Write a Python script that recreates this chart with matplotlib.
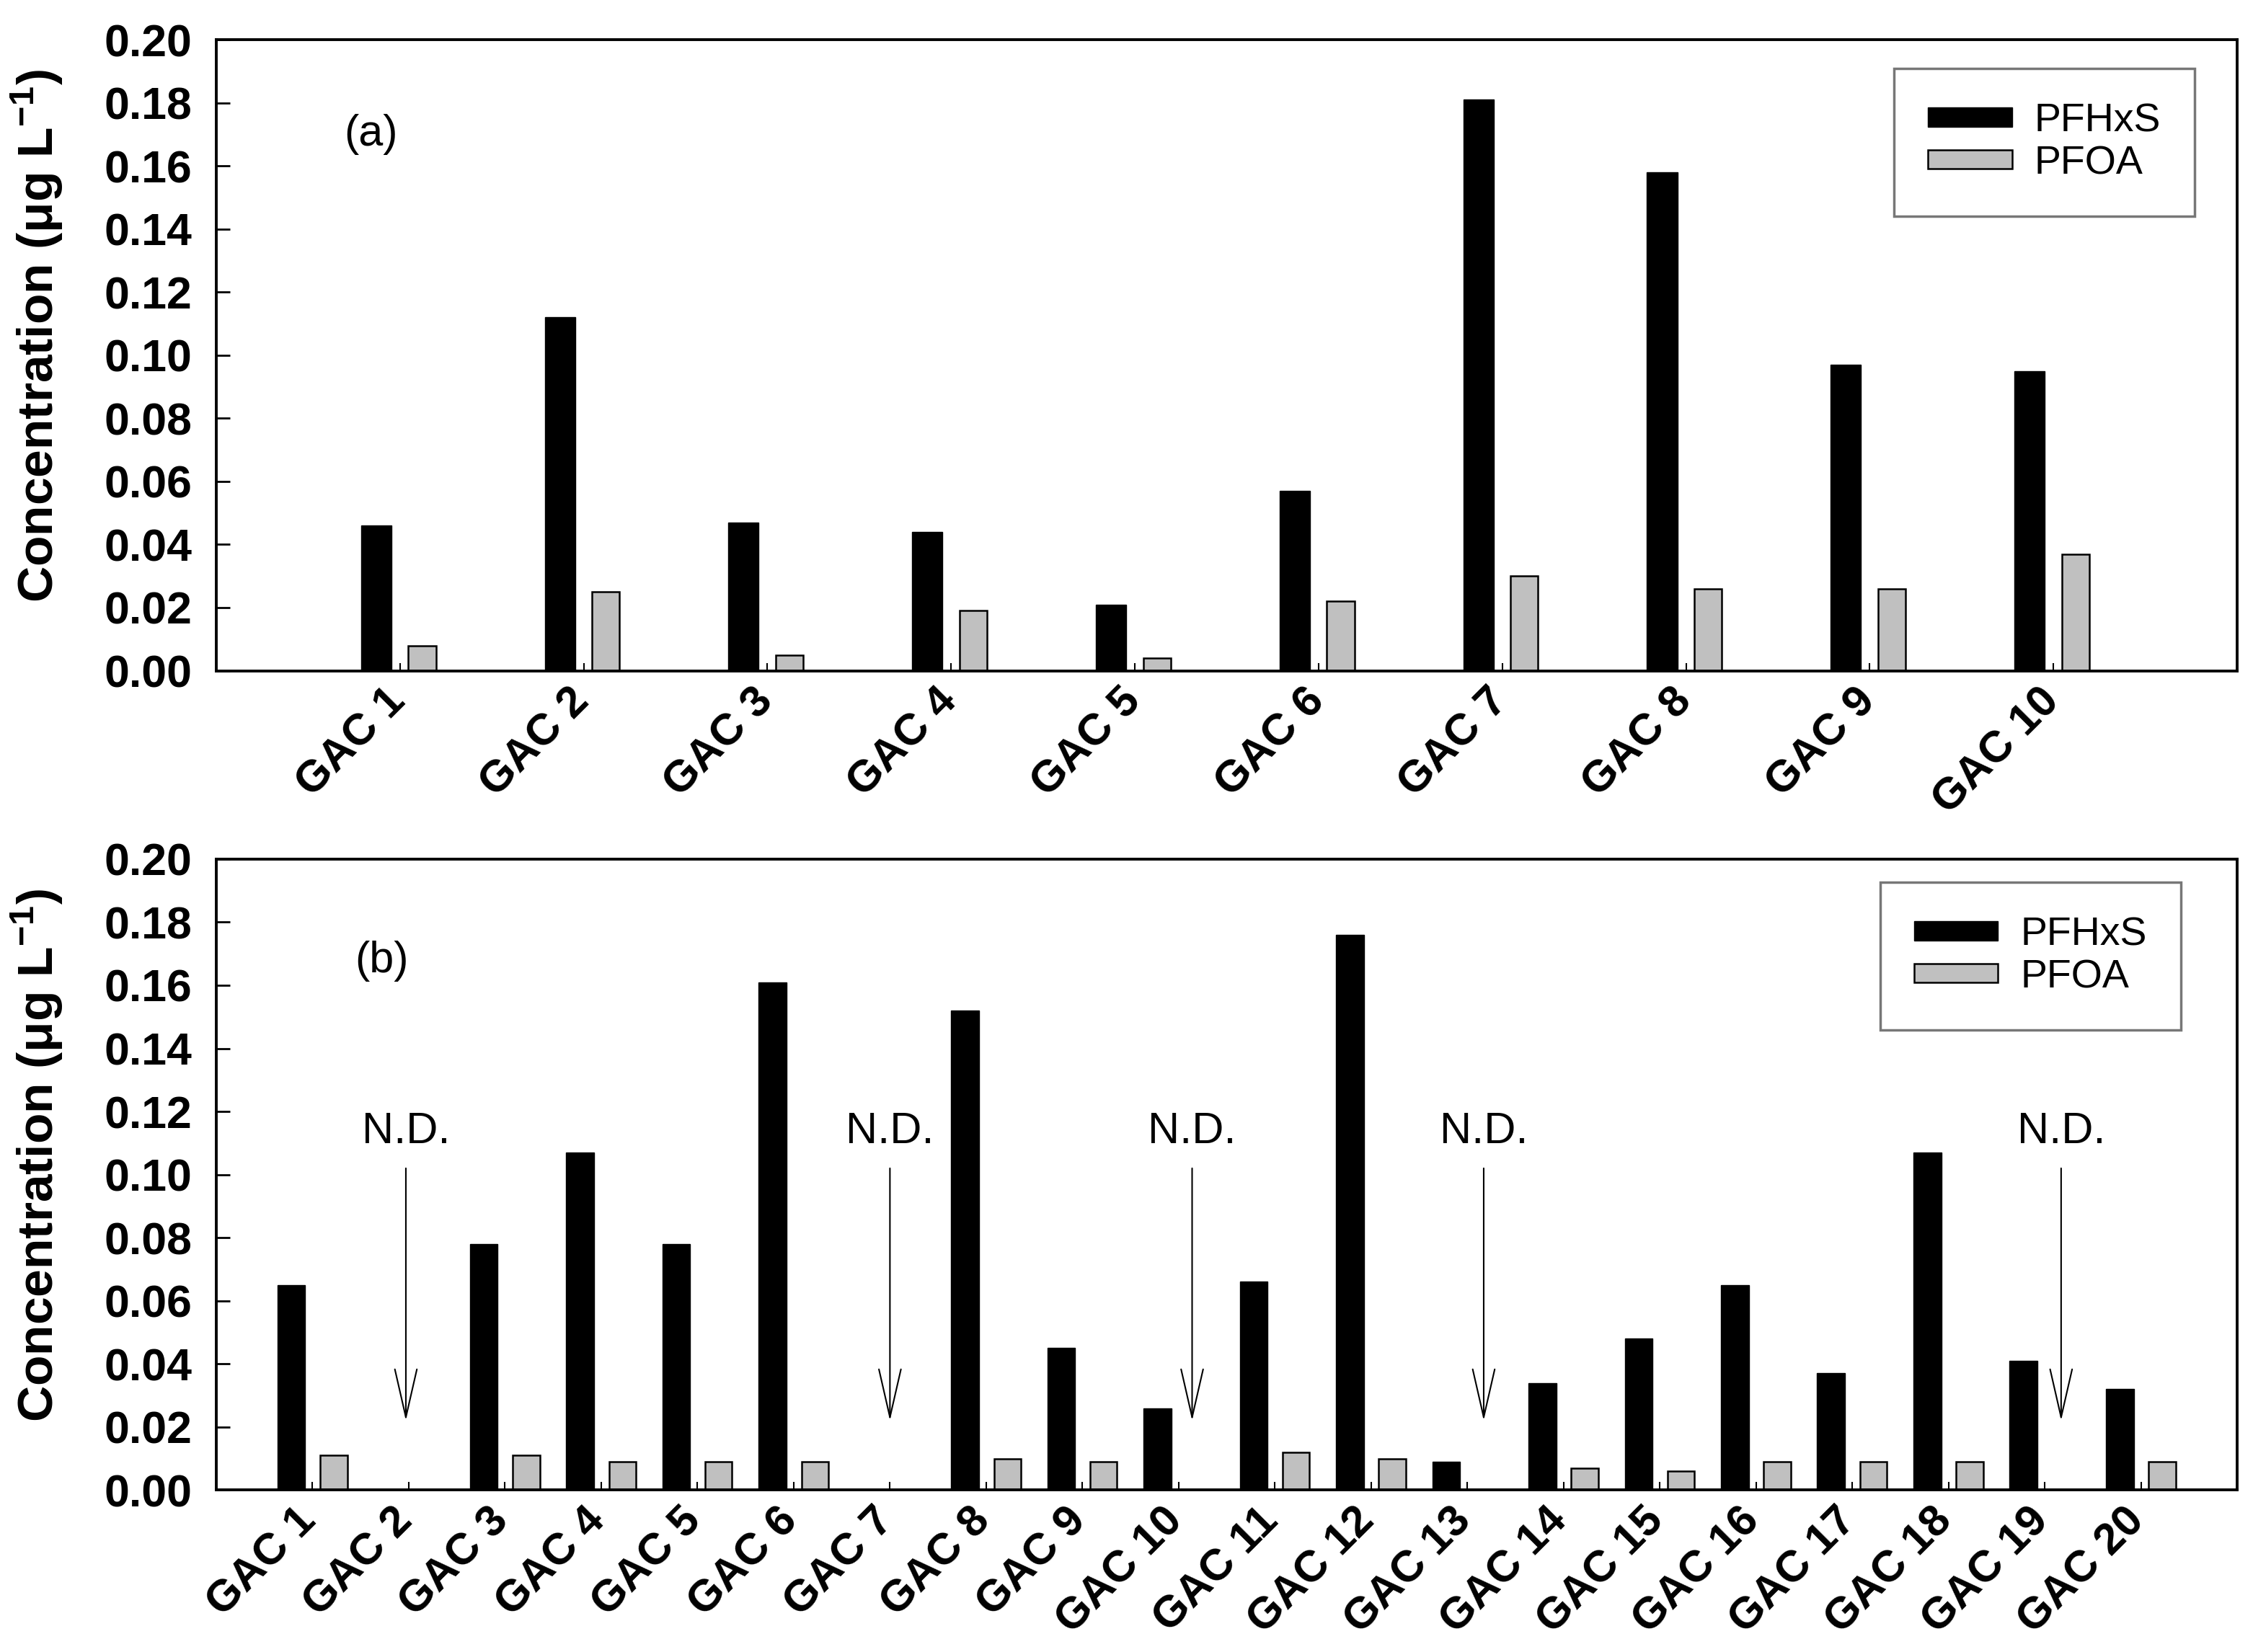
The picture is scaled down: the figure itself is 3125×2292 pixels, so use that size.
import numpy as np
import matplotlib
matplotlib.use("Agg")
import matplotlib.pyplot as plt
import matplotlib.transforms as mtransforms

plt.rcParams['font.family'] = ['Liberation Sans', 'DejaVu Sans']
plt.rcParams['mathtext.fontset'] = 'custom'
plt.rcParams['mathtext.rm'] = 'Liberation Sans'
plt.rcParams['mathtext.bf'] = 'Liberation Sans:bold'

# panel (a)
labels_a = ["GAC 1", "GAC 2", "GAC 3", "GAC 4", "GAC 5",
            "GAC 6", "GAC 7", "GAC 8", "GAC 9", "GAC 10"]
pfhxs_a = [0.046, 0.112, 0.047, 0.044, 0.021, 0.057, 0.181, 0.158, 0.097, 0.095]
pfoa_a = [0.008, 0.025, 0.005, 0.019, 0.004, 0.022, 0.030, 0.026, 0.026, 0.037]

# panel (b), None = not detected
labels_b = ["GAC %d" % i for i in range(1, 21)]
pfhxs_b = [0.065, None, 0.078, 0.107, 0.078, 0.161, None, 0.152, 0.045, 0.026,
           0.066, 0.176, 0.009, 0.034, 0.048, 0.065, 0.037, 0.107, 0.041, 0.032]
pfoa_b = [0.011, None, 0.011, 0.009, 0.009, 0.009, None, 0.010, 0.009, None,
          0.012, 0.010, None, 0.007, 0.006, 0.009, 0.009, 0.009, None, 0.009]
nd_b = ["GAC 2", "GAC 7", "GAC 10", "GAC 13", "GAC 19"]

yticks = np.arange(0, 0.201, 0.02)


def to_arr(vals):
    return np.array([np.nan if v is None else v for v in vals], dtype=float)


def style_axes(ax, labels, ncat, xshift):
    x = np.arange(1, ncat + 1)
    ax.set_xlim(0, ncat + 1)
    ax.set_ylim(0, 0.20)
    ax.set_yticks(yticks)
    ax.set_yticklabels(["%.2f" % t for t in yticks], fontweight='bold', fontsize=45)
    ax.set_xticks(x)
    ax.set_xticklabels(labels, rotation=45, ha='right', va='top',
                       fontweight='bold', fontsize=44)
    ax.tick_params(axis='y', direction='in', length=14, width=2, pad=24)
    ax.tick_params(axis='x', direction='in', length=8, width=1.5, pad=10)
    # shift after tick_params, which resets the label transforms
    shift = mtransforms.ScaledTranslation(xshift / 72, 0, ax.figure.dpi_scale_trans)
    for lab in ax.get_xticklabels():
        lab.set_transform(lab.get_transform() + shift)
    for s in ax.spines.values():
        s.set_linewidth(2.8)
    ax.set_ylabel("Concentration (\u03bcg L$^{\\mathbf{-1}}$)", fontsize=50, fontweight='bold')
    ax.yaxis.set_label_coords(-0.075, 0.53)


def draw_bars(ax, pfhxs, pfoa, off_k, off_g, wk, wg):
    x = np.arange(1, len(pfhxs) + 1)
    hk = to_arr(pfhxs)
    hg = to_arr(pfoa)
    mk = ~np.isnan(hk)
    mg = ~np.isnan(hg)
    bk = ax.bar(x[mk] + off_k, hk[mk], width=wk, color='black', edgecolor='black',
                linewidth=1, label='PFHxS')
    bg = ax.bar(x[mg] + off_g, hg[mg], width=wg, color='#c0c0c0', edgecolor='black',
                linewidth=1.8, label='PFOA')
    return bk, bg


def add_legend(ax, anchor):
    leg = ax.legend(loc='upper right', bbox_to_anchor=anchor, fontsize=40,
                    handlelength=2.1, handleheight=0.35, labelspacing=0.12,
                    borderpad=0.85, handletextpad=0.55, borderaxespad=0,
                    fancybox=False, frameon=True)
    leg.get_frame().set_edgecolor('#555555')
    leg.get_frame().set_linewidth(2.5)


fig = plt.figure(figsize=(31.25, 22.92), dpi=100)
ax1 = fig.add_axes([0.096, 0.594, 0.897, 0.382])
ax2 = fig.add_axes([0.096, 0.098, 0.897, 0.382])

draw_bars(ax1, pfhxs_a, pfoa_a, -0.13, 0.12, 0.165, 0.15)
style_axes(ax1, labels_a, len(labels_a), 14)
add_legend(ax1, (0.979, 0.954))
ax1.text(0.84, 0.170, "(a)", fontsize=44, ha='center', va='center')

draw_bars(ax2, pfhxs_b, pfoa_b, -0.22, 0.22, 0.29, 0.28)
style_axes(ax2, labels_b, len(labels_b), 12)
add_legend(ax2, (0.972, 0.963))
ax2.text(1.72, 0.1676, "(b)", fontsize=44, ha='center', va='center')

# N.D. markers, arrows sit a little right of the category centre
nd_shift = [-0.03, 0.0, 0.14, 0.17, 0.17]
for name, dx in zip(nd_b, nd_shift):
    xc = labels_b.index(name) + 1 + dx
    ax2.text(xc, 0.107, "N.D.", fontsize=44, ha='center', va='bottom')
    ax2.annotate("", xy=(xc, 0.022), xytext=(xc, 0.102),
                 arrowprops=dict(arrowstyle='->,head_length=2.4,head_width=0.55',
                                 mutation_scale=20, lw=1.5, color='black',
                                 shrinkA=0, shrinkB=0))

fig.savefig("out.png", dpi=100)
